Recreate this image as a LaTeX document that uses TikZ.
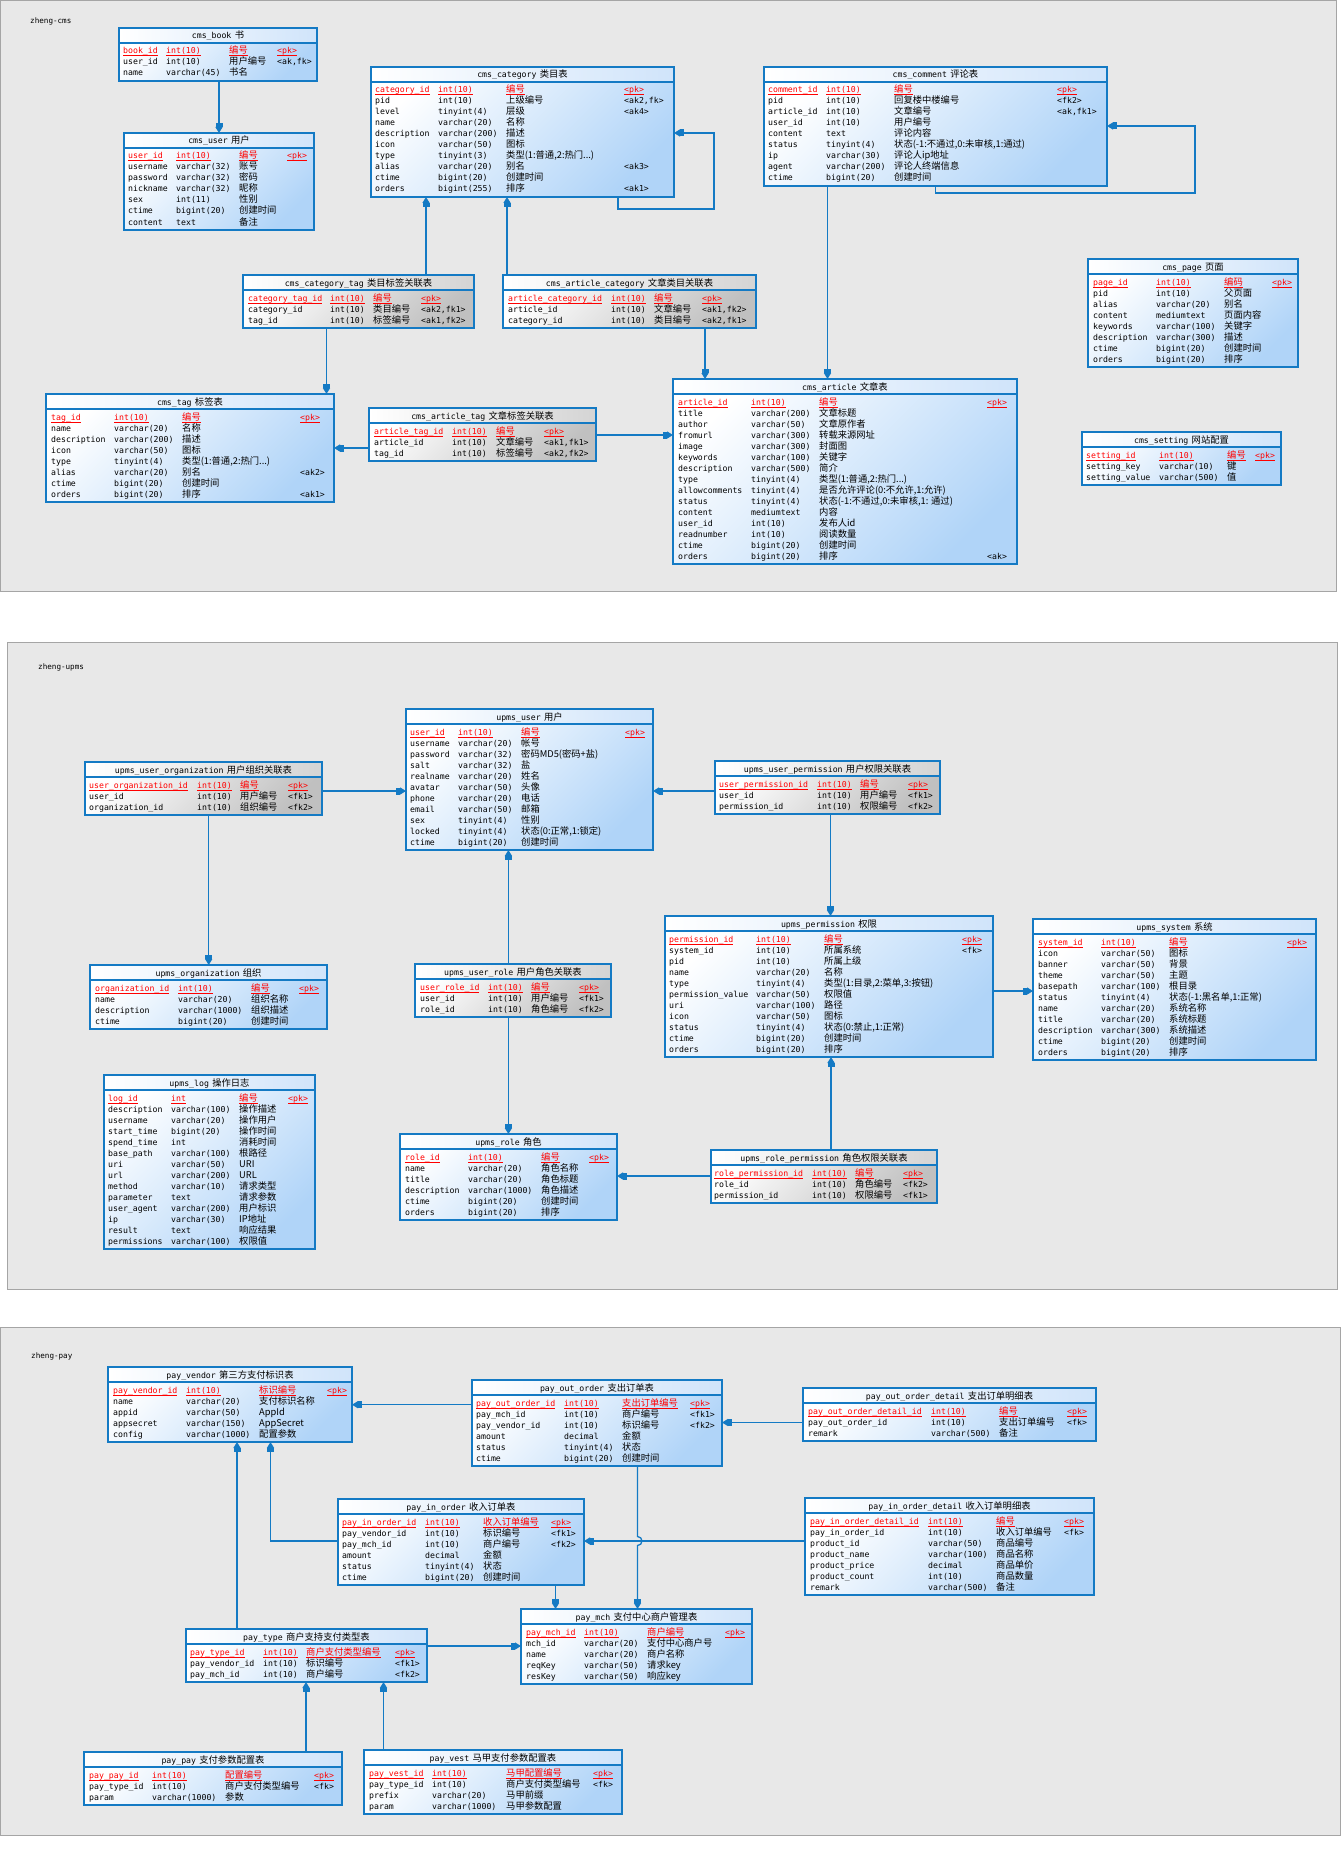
\documentclass[tikz,border=0pt]{standalone}
\usepackage{fontspec}
\usetikzlibrary{arrows.meta}
\newfontfamily\monof{DejaVu Sans Mono}
\newfontfamily\cjkf{Noto Sans CJK SC}
\newcommand\fm{\monof\fontsize{8.2}{10}\selectfont}
\newcommand\fc{\cjkf\fontsize{9.3}{10}\selectfont}
\definecolor{tblue}{RGB}{20,122,196}
\definecolor{bbody}{RGB}{176,212,248}
\definecolor{bhead}{RGB}{208,228,250}
\definecolor{gbody}{RGB}{192,192,192}
\definecolor{ghead}{RGB}{212,212,212}
\definecolor{pkred}{RGB}{255,0,0}
\definecolor{panelbg}{RGB}{232,232,232}
\definecolor{panelbd}{RGB}{165,165,165}
\newcount\cellno
\newcommand\mkcell[4]{\global\advance\cellno by 1
  \node[#1] (cell\the\cellno) at (#2,#3) {#4};}
\newcommand\cols[4]{\def\cA{#1}\def\cB{#2}\def\cC{#3}\def\cD{#4}}
\newcommand\rw[4]{%
  \mkcell{cellm}{\cA}{\rowy}{#1}%
  \mkcell{cellm}{\cB}{\rowy}{#2}%
  \mkcell{cellc}{\cC}{\rowy}{#3}%
  \def\tmpk{#4}\ifx\tmpk\empty\else\mkcell{cellm}{\cD}{\rowy}{#4}\fi
  \pgfmathsetmacro\rowy{\rowy+11}}
\newcommand\kp[1]{\textcolor{pkred}{\setbox0\hbox{#1}\rlap{\rule[-2.2pt]{\wd0}{0.7pt}}\box0}}
\newcommand\pk[4]{\rw{\kp{#1}}{\kp{#2}}{\kp{#3}}{\kp{#4}}}
\newcommand\tbl[8]{%
  \pgfmathsetmacro\tbw{#4-#2}%
  \pgfmathsetmacro\tbh{20+11*#5}%
  \node[#6body, minimum width=\tbw pt, minimum height=\tbh pt, anchor=north west] (#1) at (#2,#3) {};%
  \shade[#6head] (#1.north west) rectangle ([yshift=-15pt]#1.north east);%
  \draw[tbord] (#1.north west) rectangle (#1.south east);%
  \draw[tbord] ([yshift=-15pt]#1.north west) -- ([yshift=-15pt]#1.north east);%
  \pgfmathsetmacro\tbcx{(#2+#4)/2}%
  \pgfmathsetmacro\tbty{#3+11}%
  \node[titlest] (#1-title) at (\tbcx,\tbty) {{\fm #7}\ {\fc #8}};%
  \pgfmathsetmacro\rowy{#3+26}}
\begin{document}
\begin{tikzpicture}[x=1pt,y=-1pt,
  bluebody/.style={shade, top color=white, bottom color=bbody, shading angle=45, inner sep=0pt, outer sep=0pt, draw=none},
  graybody/.style={shade, top color=white, bottom color=gbody, shading angle=45, inner sep=0pt, outer sep=0pt, draw=none},
  bluehead/.style={left color=white, right color=bhead},
  grayhead/.style={left color=white, right color=ghead},
  tbord/.style={draw=tblue, line width=1.2pt},
  titlest/.style={anchor=base, inner sep=0pt},
  cellm/.style={anchor=base west, inner sep=0pt, font=\fm},
  cellc/.style={anchor=base west, inner sep=0pt, font=\fc},
  panel/.style={fill=panelbg, draw=panelbd, line width=0.8pt},
  lbl/.style={anchor=west, inner sep=0pt, font=\monof\fontsize{7.6}{9}\selectfont},
  conn/.style={draw=tblue, line width=1.3pt, -{Rectangle[length=4pt,width=7pt]Triangle[length=6pt,width=7pt]}}]
\fill[white] (0,0) rectangle (1341,1854);
\useasboundingbox (0,0) rectangle (1341,1854);
\draw[panel] (0.5,0.5) rectangle (1336,591);
\draw[panel] (7,642) rectangle (1337,1289);
\draw[panel] (0.5,1327) rectangle (1340,1835);
\node[lbl] (lab1) at (30,21) {zheng-cms};
\node[lbl] (lab2) at (38,667) {zheng-upms};
\node[lbl] (lab3) at (31,1356) {zheng-pay};

% ---------------- zheng-cms
\cols{123}{166}{229}{277}
\tbl{cmsbook}{119}{28}{317}{3}{blue}{cms\_book}{书}
\pk{book\_id}{int(10)}{编号}{<pk>}
\rw{user\_id}{int(10)}{用户编号}{<ak,fk>}
\rw{name}{varchar(45)}{书名}{}

\cols{128}{176}{239}{287}
\tbl{cmsuser}{124}{133}{314}{7}{blue}{cms\_user}{用户}
\pk{user\_id}{int(10)}{编号}{<pk>}
\rw{username}{varchar(32)}{账号}{}
\rw{password}{varchar(32)}{密码}{}
\rw{nickname}{varchar(32)}{昵称}{}
\rw{sex}{int(11)}{性别}{}
\rw{ctime}{bigint(20)}{创建时间}{}
\rw{content}{text}{备注}{}

\cols{375}{438}{506}{624}
\tbl{cmscat}{371}{67}{674}{10}{blue}{cms\_category}{类目表}
\pk{category\_id}{int(10)}{编号}{<pk>}
\rw{pid}{int(10)}{上级编号}{<ak2,fk>}
\rw{level}{tinyint(4)}{层级}{<ak4>}
\rw{name}{varchar(20)}{名称}{}
\rw{description}{varchar(200)}{描述}{}
\rw{icon}{varchar(50)}{图标}{}
\rw{type}{tinyint(3)}{类型(1:普通,2:热门...)}{}
\rw{alias}{varchar(20)}{别名}{<ak3>}
\rw{ctime}{bigint(20)}{创建时间}{}
\rw{orders}{bigint(255)}{排序}{<ak1>}

\cols{768}{826}{894}{1057}
\tbl{cmscomment}{764}{67}{1107}{9}{blue}{cms\_comment}{评论表}
\pk{comment\_id}{int(10)}{编号}{<pk>}
\rw{pid}{int(10)}{回复楼中楼编号}{<fk2>}
\rw{article\_id}{int(10)}{文章编号}{<ak,fk1>}
\rw{user\_id}{int(10)}{用户编号}{}
\rw{content}{text}{评论内容}{}
\rw{status}{tinyint(4)}{状态(-1:不通过,0:未审核,1:通过)}{}
\rw{ip}{varchar(30)}{评论人ip地址}{}
\rw{agent}{varchar(200)}{评论人终端信息}{}
\rw{ctime}{bigint(20)}{创建时间}{}

\cols{1093}{1156}{1224}{1272}
\tbl{cmspage}{1088}{259}{1298}{8}{blue}{cms\_page}{页面}
\pk{page\_id}{int(10)}{编码}{<pk>}
\rw{pid}{int(10)}{父页面}{}
\rw{alias}{varchar(20)}{别名}{}
\rw{content}{mediumtext}{页面内容}{}
\rw{keywords}{varchar(100)}{关键字}{}
\rw{description}{varchar(300)}{描述}{}
\rw{ctime}{bigint(20)}{创建时间}{}
\rw{orders}{bigint(20)}{排序}{}

\cols{1086}{1159}{1227}{1255}
\tbl{cmssetting}{1082}{432}{1281}{3}{blue}{cms\_setting}{网站配置}
\pk{setting\_id}{int(10)}{编号}{<pk>}
\rw{setting\_key}{varchar(10)}{键}{}
\rw{setting\_value}{varchar(500)}{值}{}

\cols{678}{751}{819}{987}
\tbl{cmsarticle}{673}{379}{1017}{15}{blue}{cms\_article}{文章表}
\pk{article\_id}{int(10)}{编号}{<pk>}
\rw{title}{varchar(200)}{文章标题}{}
\rw{author}{varchar(50)}{文章原作者}{}
\rw{fromurl}{varchar(300)}{转载来源网址}{}
\rw{image}{varchar(300)}{封面图}{}
\rw{keywords}{varchar(100)}{关键字}{}
\rw{description}{varchar(500)}{简介}{}
\rw{type}{tinyint(4)}{类型(1:普通,2:热门...)}{}
\rw{allowcomments}{tinyint(4)}{是否允许评论(0:不允许,1:允许)}{}
\rw{status}{tinyint(4)}{状态(-1:不通过,0:未审核,1: 通过)}{}
\rw{content}{mediumtext}{内容}{}
\rw{user\_id}{int(10)}{发布人id}{}
\rw{readnumber}{int(10)}{阅读数量}{}
\rw{ctime}{bigint(20)}{创建时间}{}
\rw{orders}{bigint(20)}{排序}{<ak>}

\cols{248}{330}{373}{421}
\tbl{cmscattag}{243}{275}{474}{3}{gray}{cms\_category\_tag}{类目标签关联表}
\pk{category\_tag\_id}{int(10)}{编号}{<pk>}
\rw{category\_id}{int(10)}{类目编号}{<ak2,fk1>}
\rw{tag\_id}{int(10)}{标签编号}{<ak1,fk2>}

\cols{508}{611}{654}{702}
\tbl{cmsartcat}{503}{275}{756}{3}{gray}{cms\_article\_category}{文章类目关联表}
\pk{article\_category\_id}{int(10)}{编号}{<pk>}
\rw{article\_id}{int(10)}{文章编号}{<ak1,fk2>}
\rw{category\_id}{int(10)}{类目编号}{<ak2,fk1>}

\cols{51}{114}{182}{300}
\tbl{cmstag}{46}{394}{334}{8}{blue}{cms\_tag}{标签表}
\pk{tag\_id}{int(10)}{编号}{<pk>}
\rw{name}{varchar(20)}{名称}{}
\rw{description}{varchar(200)}{描述}{}
\rw{icon}{varchar(50)}{图标}{}
\rw{type}{tinyint(4)}{类型(1:普通,2:热门...)}{}
\rw{alias}{varchar(20)}{别名}{<ak2>}
\rw{ctime}{bigint(20)}{创建时间}{}
\rw{orders}{bigint(20)}{排序}{<ak1>}

\cols{374}{452}{496}{544}
\tbl{cmsarttag}{369}{408}{596}{3}{gray}{cms\_article\_tag}{文章标签关联表}
\pk{article\_tag\_id}{int(10)}{编号}{<pk>}
\rw{article\_id}{int(10)}{文章编号}{<ak1,fk1>}
\rw{tag\_id}{int(10)}{标签编号}{<ak2,fk2>}

% ---------------- zheng-upms
\cols{410}{458}{521}{625}
\tbl{upmsuser}{406}{709}{653}{11}{blue}{upms\_user}{用户}
\pk{user\_id}{int(10)}{编号}{<pk>}
\rw{username}{varchar(20)}{帐号}{}
\rw{password}{varchar(32)}{密码MD5(密码+盐)}{}
\rw{salt}{varchar(32)}{盐}{}
\rw{realname}{varchar(20)}{姓名}{}
\rw{avatar}{varchar(50)}{头像}{}
\rw{phone}{varchar(20)}{电话}{}
\rw{email}{varchar(50)}{邮箱}{}
\rw{sex}{tinyint(4)}{性别}{}
\rw{locked}{tinyint(4)}{状态(0:正常,1:锁定)}{}
\rw{ctime}{bigint(20)}{创建时间}{}

\cols{89}{197}{240}{288}
\tbl{upmsuserorg}{85}{762}{322}{3}{gray}{upms\_user\_organization}{用户组织关联表}
\pk{user\_organization\_id}{int(10)}{编号}{<pk>}
\rw{user\_id}{int(10)}{用户编号}{<fk1>}
\rw{organization\_id}{int(10)}{组织编号}{<fk2>}

\cols{719}{817}{860}{908}
\tbl{upmsuserperm}{715}{761}{940}{3}{gray}{upms\_user\_permission}{用户权限关联表}
\pk{user\_permission\_id}{int(10)}{编号}{<pk>}
\rw{user\_id}{int(10)}{用户编号}{<fk1>}
\rw{permission\_id}{int(10)}{权限编号}{<fk2>}

\cols{669}{756}{824}{962}
\tbl{upmsperm}{665}{916}{993}{11}{blue}{upms\_permission}{权限}
\pk{permission\_id}{int(10)}{编号}{<pk>}
\rw{system\_id}{int(10)}{所属系统}{<fk>}
\rw{pid}{int(10)}{所属上级}{}
\rw{name}{varchar(20)}{名称}{}
\rw{type}{tinyint(4)}{类型(1:目录,2:菜单,3:按钮)}{}
\rw{permission\_value}{varchar(50)}{权限值}{}
\rw{uri}{varchar(100)}{路径}{}
\rw{icon}{varchar(50)}{图标}{}
\rw{status}{tinyint(4)}{状态(0:禁止,1:正常)}{}
\rw{ctime}{bigint(20)}{创建时间}{}
\rw{orders}{bigint(20)}{排序}{}

\cols{1038}{1101}{1169}{1287}
\tbl{upmssystem}{1033}{919}{1316}{11}{blue}{upms\_system}{系统}
\pk{system\_id}{int(10)}{编号}{<pk>}
\rw{icon}{varchar(50)}{图标}{}
\rw{banner}{varchar(50)}{背景}{}
\rw{theme}{varchar(50)}{主题}{}
\rw{basepath}{varchar(100)}{根目录}{}
\rw{status}{tinyint(4)}{状态(-1:黑名单,1:正常)}{}
\rw{name}{varchar(20)}{系统名称}{}
\rw{title}{varchar(20)}{系统标题}{}
\rw{description}{varchar(300)}{系统描述}{}
\rw{ctime}{bigint(20)}{创建时间}{}
\rw{orders}{bigint(20)}{排序}{}

\cols{95}{178}{251}{299}
\tbl{upmsorg}{90}{965}{327}{4}{blue}{upms\_organization}{组织}
\pk{organization\_id}{int(10)}{编号}{<pk>}
\rw{name}{varchar(20)}{组织名称}{}
\rw{description}{varchar(1000)}{组织描述}{}
\rw{ctime}{bigint(20)}{创建时间}{}

\cols{420}{488}{531}{579}
\tbl{upmsuserrole}{415}{964}{611}{3}{gray}{upms\_user\_role}{用户角色关联表}
\pk{user\_role\_id}{int(10)}{编号}{<pk>}
\rw{user\_id}{int(10)}{用户编号}{<fk1>}
\rw{role\_id}{int(10)}{角色编号}{<fk2>}

\cols{108}{171}{239}{288}
\tbl{upmslog}{104}{1075}{315}{14}{blue}{upms\_log}{操作日志}
\pk{log\_id}{int}{编号}{<pk>}
\rw{description}{varchar(100)}{操作描述}{}
\rw{username}{varchar(20)}{操作用户}{}
\rw{start\_time}{bigint(20)}{操作时间}{}
\rw{spend\_time}{int}{消耗时间}{}
\rw{base\_path}{varchar(100)}{根路径}{}
\rw{uri}{varchar(50)}{URI}{}
\rw{url}{varchar(200)}{URL}{}
\rw{method}{varchar(10)}{请求类型}{}
\rw{parameter}{text}{请求参数}{}
\rw{user\_agent}{varchar(200)}{用户标识}{}
\rw{ip}{varchar(30)}{IP地址}{}
\rw{result}{text}{响应结果}{}
\rw{permissions}{varchar(100)}{权限值}{}

\cols{405}{468}{541}{589}
\tbl{upmsrole}{400}{1134}{617}{6}{blue}{upms\_role}{角色}
\pk{role\_id}{int(10)}{编号}{<pk>}
\rw{name}{varchar(20)}{角色名称}{}
\rw{title}{varchar(20)}{角色标题}{}
\rw{description}{varchar(1000)}{角色描述}{}
\rw{ctime}{bigint(20)}{创建时间}{}
\rw{orders}{bigint(20)}{排序}{}

\cols{714}{812}{855}{903}
\tbl{upmsroleperm}{711}{1150}{937}{3}{gray}{upms\_role\_permission}{角色权限关联表}
\pk{role\_permission\_id}{int(10)}{编号}{<pk>}
\rw{role\_id}{int(10)}{角色编号}{<fk2>}
\rw{permission\_id}{int(10)}{权限编号}{<fk1>}

% ---------------- zheng-pay
\cols{113}{186}{259}{327}
\tbl{payvendor}{108}{1367}{352}{5}{blue}{pay\_vendor}{第三方支付标识表}
\pk{pay\_vendor\_id}{int(10)}{标识编号}{<pk>}
\rw{name}{varchar(20)}{支付标识名称}{}
\rw{appid}{varchar(50)}{AppId}{}
\rw{appsecret}{varchar(150)}{AppSecret}{}
\rw{config}{varchar(1000)}{配置参数}{}

\cols{476}{564}{622}{690}
\tbl{payout}{472}{1380}{722}{6}{blue}{pay\_out\_order}{支出订单表}
\pk{pay\_out\_order\_id}{int(10)}{支出订单编号}{<pk>}
\rw{pay\_mch\_id}{int(10)}{商户编号}{<fk1>}
\rw{pay\_vendor\_id}{int(10)}{标识编号}{<fk2>}
\rw{amount}{decimal}{金额}{}
\rw{status}{tinyint(4)}{状态}{}
\rw{ctime}{bigint(20)}{创建时间}{}

\cols{808}{931}{999}{1067}
\tbl{payoutdetail}{803}{1388}{1096}{3}{blue}{pay\_out\_order\_detail}{支出订单明细表}
\pk{pay\_out\_order\_detail\_id}{int(10)}{编号}{<pk>}
\rw{pay\_out\_order\_id}{int(10)}{支出订单编号}{<fk>}
\rw{remark}{varchar(500)}{备注}{}

\cols{810}{928}{996}{1064}
\tbl{payindetail}{805}{1498}{1094}{7}{blue}{pay\_in\_order\_detail}{收入订单明细表}
\pk{pay\_in\_order\_detail\_id}{int(10)}{编号}{<pk>}
\rw{pay\_in\_order\_id}{int(10)}{收入订单编号}{<fk>}
\rw{product\_id}{varchar(50)}{商品编号}{}
\rw{product\_name}{varchar(100)}{商品名称}{}
\rw{product\_price}{decimal}{商品单价}{}
\rw{product\_count}{int(10)}{商品数量}{}
\rw{remark}{varchar(500)}{备注}{}

\cols{342}{425}{483}{551}
\tbl{payin}{338}{1499}{584}{6}{blue}{pay\_in\_order}{收入订单表}
\pk{pay\_in\_order\_id}{int(10)}{收入订单编号}{<pk>}
\rw{pay\_vendor\_id}{int(10)}{标识编号}{<fk1>}
\rw{pay\_mch\_id}{int(10)}{商户编号}{<fk2>}
\rw{amount}{decimal}{金额}{}
\rw{status}{tinyint(4)}{状态}{}
\rw{ctime}{bigint(20)}{创建时间}{}

\cols{526}{584}{647}{725}
\tbl{paymch}{521}{1609}{752}{5}{blue}{pay\_mch}{支付中心商户管理表}
\pk{pay\_mch\_id}{int(10)}{商户编号}{<pk>}
\rw{mch\_id}{varchar(20)}{支付中心商户号}{}
\rw{name}{varchar(20)}{商户名称}{}
\rw{reqKey}{varchar(50)}{请求key}{}
\rw{resKey}{varchar(50)}{响应key}{}

\cols{190}{263}{306}{395}
\tbl{paytype}{186}{1629}{427}{3}{blue}{pay\_type}{商户支持支付类型表}
\pk{pay\_type\_id}{int(10)}{商户支付类型编号}{<pk>}
\rw{pay\_vendor\_id}{int(10)}{标识编号}{<fk1>}
\rw{pay\_mch\_id}{int(10)}{商户编号}{<fk2>}

\cols{89}{152}{225}{314}
\tbl{paypay}{84}{1752}{342}{3}{blue}{pay\_pay}{支付参数配置表}
\pk{pay\_pay\_id}{int(10)}{配置编号}{<pk>}
\rw{pay\_type\_id}{int(10)}{商户支付类型编号}{<fk>}
\rw{param}{varchar(1000)}{参数}{}

\cols{369}{432}{506}{593}
\tbl{payvest}{364}{1750}{622}{4}{blue}{pay\_vest}{马甲支付参数配置表}
\pk{pay\_vest\_id}{int(10)}{马甲配置编号}{<pk>}
\rw{pay\_type\_id}{int(10)}{商户支付类型编号}{<fk>}
\rw{prefix}{varchar(20)}{马甲前缀}{}
\rw{param}{varchar(1000)}{马甲参数配置}{}

% ---------------- connectors: zheng-cms
\coordinate (k1) at ([xshift=100pt]cmsbook.south west);
\draw[conn] (k1) -- (k1 |- cmsuser.north);
\coordinate (k2a) at ([xshift=247pt]cmscat.south west);
\coordinate (k2b) at ([yshift=-66pt]cmscat.north east);
\draw[conn] (k2a) -- ++(0,12) -| ([xshift=40pt]k2b) -- (k2b);
\coordinate (k3) at ([xshift=183pt]cmscattag.north west);
\draw[conn] (k3) -- (k3 |- cmscat.south);
\coordinate (k4) at ([xshift=4pt]cmsartcat.north west);
\draw[conn] (k4) -- (k4 |- cmscat.south);
\coordinate (k5) at ([xshift=83.5pt]cmscattag.south west);
\draw[conn] (k5) -- (k5 |- cmstag.north);
\coordinate (k6) at ([xshift=202pt]cmsartcat.south west);
\draw[conn] (k6) -- (k6 |- cmsarticle.north);
\coordinate (k7) at ([yshift=-40pt]cmsarttag.north west);
\draw[conn] (k7) -- (k7 -| cmstag.east);
\coordinate (k8) at ([yshift=-27pt]cmsarttag.north east);
\draw[conn] (k8) -- (k8 -| cmsarticle.west);
\coordinate (k9) at ([xshift=63.5pt]cmscomment.south west);
\draw[conn] (k9) -- (k9 |- cmsarticle.north);
\coordinate (k10a) at ([xshift=171.4pt]cmscomment.south west);
\coordinate (k10b) at ([yshift=-59pt]cmscomment.north east);
\draw[conn] (k10a) -- ++(0,7) -| ([xshift=88pt]k10b) -- (k10b);

% ---------------- connectors: zheng-upms
\coordinate (k11) at ([yshift=-29pt]upmsuserorg.north east);
\draw[conn] (k11) -- (k11 -| upmsuser.west);
\coordinate (k12) at ([yshift=-30pt]upmsuserperm.north west);
\draw[conn] (k12) -- (k12 -| upmsuser.east);
\coordinate (k13) at ([xshift=123.7pt]upmsuserorg.south west);
\draw[conn] (k13) -- (k13 |- upmsorg.north);
\coordinate (k14) at ([xshift=115.5pt]upmsuserperm.south west);
\draw[conn] (k14) -- (k14 |- upmsperm.north);
\coordinate (k15) at ([xshift=93.4pt]upmsuserrole.north west);
\draw[conn] (k15) -- (k15 |- upmsuser.south);
\coordinate (k16) at ([xshift=93.4pt]upmsuserrole.south west);
\draw[conn] (k16) -- (k16 |- upmsrole.north);
\coordinate (k17) at ([yshift=-75pt]upmsperm.north east);
\draw[conn] (k17) -- (k17 -| upmssystem.west);
\coordinate (k18) at ([xshift=120pt]upmsroleperm.north west);
\draw[conn] (k18) -- (k18 |- upmsperm.south);
\coordinate (k19) at ([yshift=-26pt]upmsroleperm.north west);
\draw[conn] (k19) -- (k19 -| upmsrole.east);

% ---------------- connectors: zheng-pay
\coordinate (k20) at ([yshift=-24.7pt]payout.north west);
\draw[conn] (k20) -- (k20 -| payvendor.east);
\coordinate (k21) at ([yshift=-34.5pt]payoutdetail.north west);
\draw[conn] (k21) -- (k21 -| payout.east);
\coordinate (k22) at ([yshift=-43pt]payindetail.north west);
\draw[conn] (k22) -- (k22 -| payin.east);
\coordinate (k23) at ([xshift=165.5pt]payout.south west);
\coordinate (hop) at (k23 |- k22);
\draw[conn] (k23) -- ([yshift=4.5pt]hop) arc[start angle=90, end angle=-90, radius=4.5pt] -- (k23 |- paymch.north);
\coordinate (k24) at ([xshift=217.5pt]payin.south west);
\draw[conn] (k24) -- (k24 |- paymch.north);
\coordinate (k25) at ([yshift=-42pt]payin.north west);
\draw[conn] (k25) -| ([xshift=162.5pt]payvendor.south west);
\coordinate (k26) at ([xshift=51pt]paytype.north west);
\draw[conn] (k26) -- (k26 |- payvendor.south);
\coordinate (k27) at ([yshift=-17pt]paytype.north east);
\draw[conn] (k27) -- (k27 -| paymch.west);
\coordinate (k28) at ([xshift=222pt]paypay.north west);
\draw[conn] (k28) -- (k28 |- paytype.south);
\coordinate (k29) at ([xshift=19.5pt]payvest.north west);
\draw[conn] (k29) -- (k29 |- paytype.south);
\end{tikzpicture}
\end{document}
